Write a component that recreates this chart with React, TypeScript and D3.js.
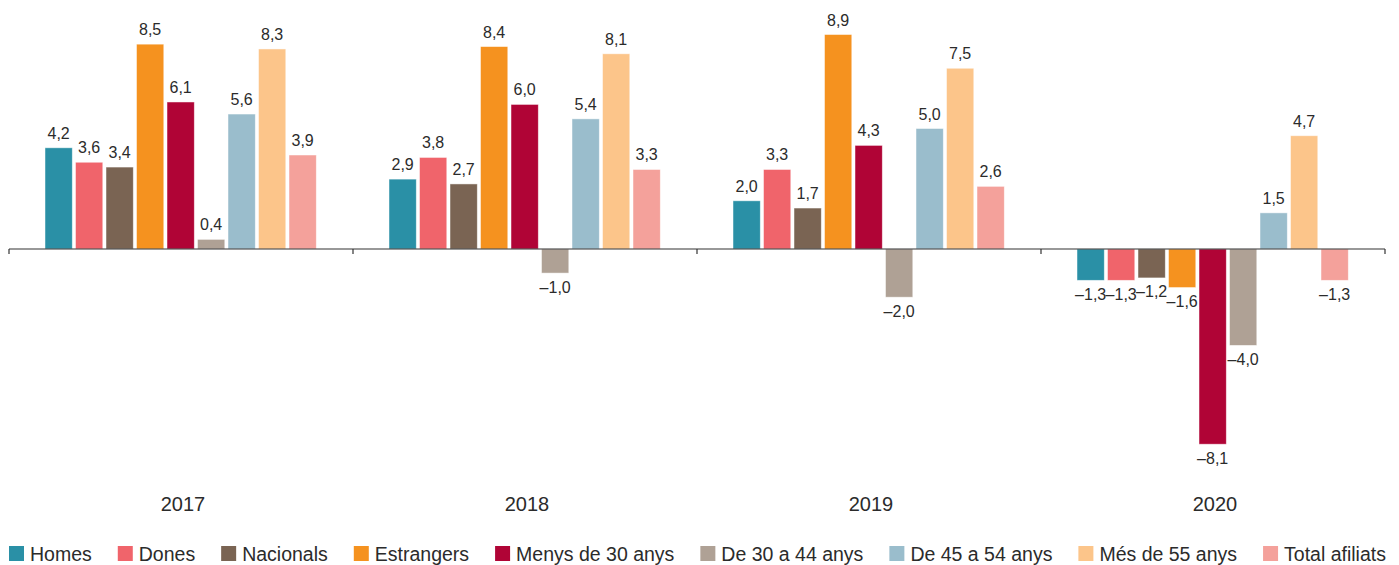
import React, { useEffect, useRef } from "react";
import * as d3 from "d3";

const years = ["2017", "2018", "2019", "2020"];
const seriesNames = [
  "Homes",
  "Dones",
  "Nacionals",
  "Estrangers",
  "Menys de 30 anys",
  "De 30 a 44 anys",
  "De 45 a 54 anys",
  "Més de 55 anys",
  "Total afiliats",
];
const seriesColors = [
  "#2a90a6",
  "#f0646b",
  "#7a6453",
  "#f5921f",
  "#b00436",
  "#afa195",
  "#9abdcc",
  "#fcc58a",
  "#f4a19b",
];
const values2017 = [4.2, 3.6, 3.4, 8.5, 6.1, 0.4, 5.6, 8.3, 3.9];
const values2018 = [2.9, 3.8, 2.7, 8.4, 6.0, -1.0, 5.4, 8.1, 3.3];
const values2019 = [2.0, 3.3, 1.7, 8.9, 4.3, -2.0, 5.0, 7.5, 2.6];
const values2020 = [-1.3, -1.3, -1.2, -1.6, -8.1, -4.0, 1.5, 4.7, -1.3];
const valuesByYear = [values2017, values2018, values2019, values2020];

const W = 1399;
const H = 565;
const FONT = "'Liberation Sans', Arial, Helvetica, sans-serif";

export default function App() {
  const ref = useRef<SVGSVGElement>(null);

  useEffect(() => {
    const svg = d3.select(ref.current);
    svg.selectAll("*").remove();

    const x0 = d3.scaleBand<string>().domain(years).range([9, 1385]).padding(0);
    const x1 = d3
      .scaleBand<string>()
      .domain(seriesNames)
      .range([36, 307.3])
      .paddingInner(0.105)
      .paddingOuter(0);
    const y = d3.scaleLinear().domain([-10, 10]).range([490, 8]);

    const fmt = (v: number) => (v < 0 ? "\u2013" : "") + Math.abs(v).toFixed(1).replace(".", ",");

    const groups = svg
      .selectAll("g.year")
      .data(years)
      .enter()
      .append("g")
      .attr("class", "year")
      .attr("transform", (d) => `translate(${x0(d)},0)`);

    groups.each(function (yr, gi) {
      const g = d3.select(this);
      const vals = valuesByYear[gi];
      const data = seriesNames.map((s, i) => ({ s, v: vals[i], c: seriesColors[i] }));
      g.selectAll("rect")
        .data(data)
        .enter()
        .append("rect")
        .attr("x", (d) => x1(d.s)!)
        .attr("width", x1.bandwidth())
        .attr("y", (d) => y(Math.max(0, d.v)))
        .attr("height", (d) => Math.abs(y(d.v) - y(0)))
        .attr("fill", (d) => d.c)
        .attr("stroke", "rgba(255,255,255,0.6)")
        .attr("stroke-width", 0.8);
      g.selectAll("text.lbl")
        .data(data)
        .enter()
        .append("text")
        .attr("class", "lbl")
        .attr("x", (d) => x1(d.s)! + x1.bandwidth() / 2)
        .attr("y", (d) => (d.v >= 0 ? y(d.v) - 9 : y(d.v) + 19.5))
        .attr("text-anchor", "middle")
        .attr("font-family", FONT)
        .attr("font-size", 16)
        .attr("fill", "#2b2b2b")
        .text((d) => fmt(d.v));
      g.append("text")
        .attr("x", x0.bandwidth() / 2 + 2)
        .attr("y", 511)
        .attr("text-anchor", "middle")
        .attr("font-family", FONT)
        .attr("font-size", 20)
        .attr("fill", "#2b2b2b")
        .text(yr);
    });

    // axis line
    const axisY = y(0);
    svg
      .append("line")
      .attr("x1", 9)
      .attr("x2", 1385)
      .attr("y1", axisY)
      .attr("y2", axisY)
      .attr("stroke", "#333")
      .attr("stroke-width", 1.2);
    const tickXs = [...years.map((d) => x0(d)!), x0(years[years.length - 1])! + x0.bandwidth()];
    svg
      .selectAll("line.tick")
      .data(tickXs)
      .enter()
      .append("line")
      .attr("class", "tick")
      .attr("x1", (d) => d)
      .attr("x2", (d) => d)
      .attr("y1", axisY)
      .attr("y2", axisY + 5)
      .attr("stroke", "#333")
      .attr("stroke-width", 1.2);

    // legend (flow layout)
    const lg = svg.append("g");
    let cx = 9;
    seriesNames.forEach((s, i) => {
      lg.append("rect")
        .attr("x", cx)
        .attr("y", 546)
        .attr("width", 15)
        .attr("height", 15)
        .attr("fill", seriesColors[i]);
      const t = lg
        .append("text")
        .attr("x", cx + 21)
        .attr("y", 560.5)
        .attr("font-family", FONT)
        .attr("font-size", 19.5)
        .attr("fill", "#2b2b2b")
        .text(s);
      const w = (t.node() as SVGTextElement).getComputedTextLength();
      cx = cx + 21 + w + 26;
    });
  }, []);

  return (
    <svg
      ref={ref}
      width={W}
      height={H}
      style={{ position: "absolute", left: 0, top: 0, background: "#fff" }}
    />
  );
}
